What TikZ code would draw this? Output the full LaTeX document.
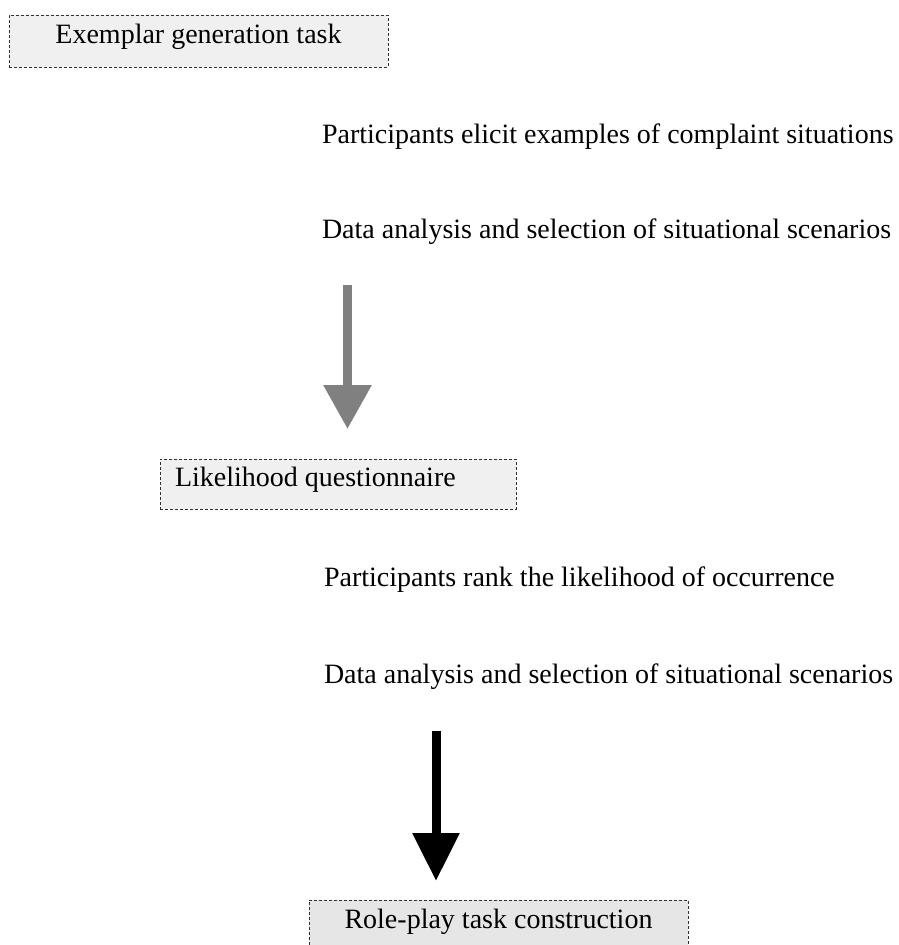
\documentclass[tikz,border=0pt]{standalone}
\usepackage{fontspec}
\setmainfont{Liberation Serif}
\usetikzlibrary{arrows.meta}
\definecolor{boxfillA}{HTML}{F0F0F0}
\definecolor{boxfillB}{HTML}{E6E6E6}
\definecolor{boxline}{HTML}{303030}
\definecolor{arrowgray}{HTML}{808080}
\tikzset{
  stagebox/.style={draw=boxline, line width=1pt, dash pattern=on 3pt off 2pt,
    inner sep=0pt, outer sep=0pt, anchor=north west},
  lbl/.style={inner sep=0pt, outer sep=0pt, font=\fontsize{28}{34}\selectfont},
  blockarrow/.style={line width=9pt},
}
\begin{document}
\begin{tikzpicture}[x=1pt,y=-1pt]
\useasboundingbox (0,0) rectangle (899,945);
\clip (0,0) rectangle (899,945);
% boxes
\node[stagebox, fill=boxfillA, minimum width=379pt, minimum height=52pt] (box1) at (9,15) {};
\node[lbl, anchor=base] (t1) at (198.5,43) {Exemplar generation task};
\node[stagebox, fill=boxfillA, minimum width=356pt, minimum height=50pt] (box2) at (160,459) {};
\node[lbl, anchor=base west] (t2) at (175,486) {Likelihood questionnaire};
\node[stagebox, fill=boxfillB, minimum width=379pt, minimum height=60pt] (box3) at (309,900) {};
\node[lbl, anchor=base] (t3) at (498.5,928) {Role-play task construction};
% step texts
\node[lbl, anchor=base west] (s1) at (322,143) {Participants elicit examples of complaint situations};
\node[lbl, anchor=base west] (s2) at (322,238) {Data analysis and selection of situational scenarios};
\node[lbl, anchor=base west] (s3) at (324,586) {Participants rank the likelihood of occurrence};
\node[lbl, anchor=base west] (s4) at (324,683) {Data analysis and selection of situational scenarios};
% arrows
\coordinate (a1s) at (347.5,285);
\coordinate (a1e) at (347.5,429);
\draw[blockarrow, draw=arrowgray, -{Triangle[width=46pt,length=44pt]}, arrowgray] (a1s) -- (a1e);
\coordinate (a2s) at (436,731);
\coordinate (a2e) at (436,881);
\draw[blockarrow, draw=black, -{Triangle[width=45pt,length=48pt]}] (a2s) -- (a2e);
\end{tikzpicture}
\end{document}
